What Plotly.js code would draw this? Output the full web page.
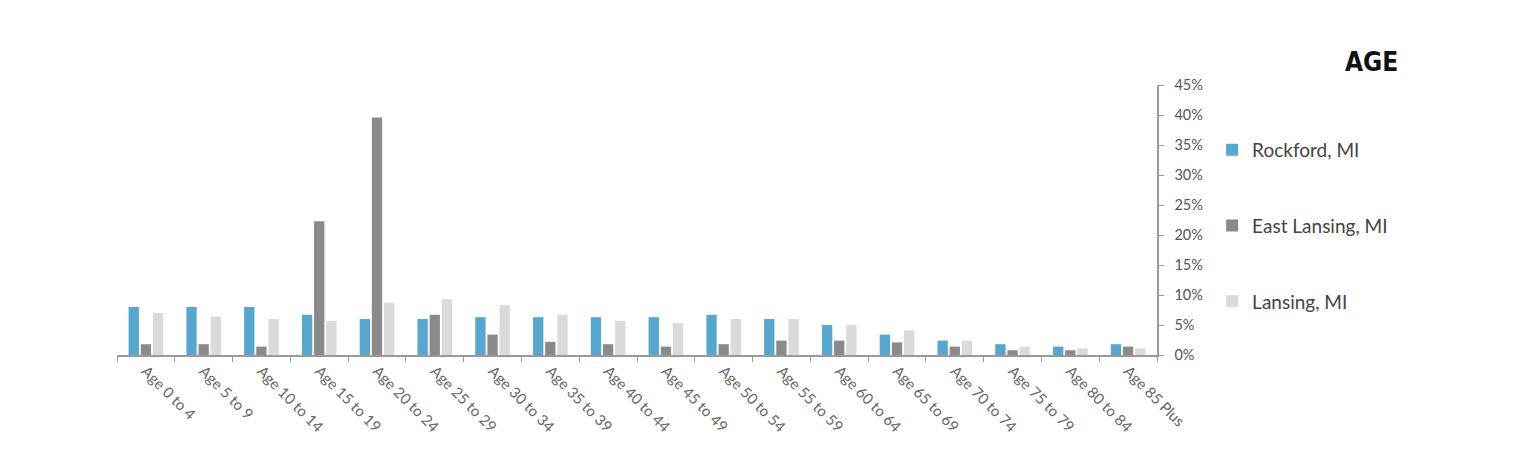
<!DOCTYPE html>
<html><head><meta charset="utf-8">
<script src="https://cdn.plot.ly/plotly-3.0.1.min.js"></script>
<style>body{margin:0;background:#fff}#chart{width:1514px;height:460px}</style>
</head><body><div id="chart"></div>
<script>
const categories = ["Age 0 to 4","Age 5 to 9","Age 10 to 14","Age 15 to 19","Age 20 to 24","Age 25 to 29","Age 30 to 34","Age 35 to 39","Age 40 to 44","Age 45 to 49","Age 50 to 54","Age 55 to 59","Age 60 to 64","Age 65 to 69","Age 70 to 74","Age 75 to 79","Age 80 to 84","Age 85 Plus"];
const rockford = [8.0,8.0,8.0,6.7,6.0,6.0,6.3,6.3,6.3,6.3,6.7,6.0,5.0,3.4,2.4,1.8,1.4,1.8];
const eastLansing = [1.8,1.8,1.4,22.3,39.6,6.7,3.4,2.2,1.8,1.4,1.8,2.4,2.4,2.1,1.4,0.8,0.8,1.4];
const lansing = [7.0,6.4,6.0,5.7,8.7,9.3,8.3,6.7,5.7,5.3,6.0,6.0,5.0,4.1,2.4,1.4,1.1,1.1];
const seriesNames = ["Rockford, MI","East Lansing, MI","Lansing, MI"];
const colors = ["#56A6CD","#8A8A8A","#DADADA"];
const vals = [rockford, eastLansing, lansing];
const traces = vals.map((v,i)=>({
  type:"bar", x:categories, y:v, name:seriesNames[i],
  marker:{color:colors[i]}, legendgroup:"g"+i, hoverinfo:"x+y"
}));
const layout = {
  width:1514, height:460,
  margin:{l:117, r:357, t:85, b:105},
  paper_bgcolor:"#fff", plot_bgcolor:"#fff",
  font:{family:"Lato, 'Open Sans', sans-serif", color:"#555"},
  barmode:"group", bargap:0.37, bargroupgap:0.15,
  showlegend:true,
  legend:{x:1.053, xanchor:"left", y:0.83, yanchor:"top", tracegroupgap:48,
    font:{size:19, color:"#444"}, itemwidth:30},
  xaxis:{type:"category", tickangle:45, tickfont:{size:15, color:"#666"},
    showline:true, linecolor:"#999", linewidth:1.5, ticks:"outside", tickson:"boundaries",
    ticklen:5, tickcolor:"#999", showgrid:false, zeroline:false, automargin:false},
  yaxis:{side:"right", range:[0,45], dtick:5, ticksuffix:"%", showline:true, linecolor:"#999",
    linewidth:1.5, ticks:"outside", ticklen:5, tickcolor:"#999", showgrid:false, zeroline:false,
    ticklabelstandoff:8, tickfont:{size:14.5, color:"#555"}, automargin:false},
  annotations:[{text:"<b>AGE</b>", xref:"paper", yref:"paper", x:1.2335, y:1.085,
    xanchor:"right", yanchor:"middle", showarrow:false,
    font:{family:"DejaVu Sans Condensed, Liberation Sans Narrow, Roboto Condensed, sans-serif", size:26, color:"#111"}}]
};
Plotly.newPlot("chart", traces, layout, {displayModeBar:false, staticPlot:true});
</script></body></html>
